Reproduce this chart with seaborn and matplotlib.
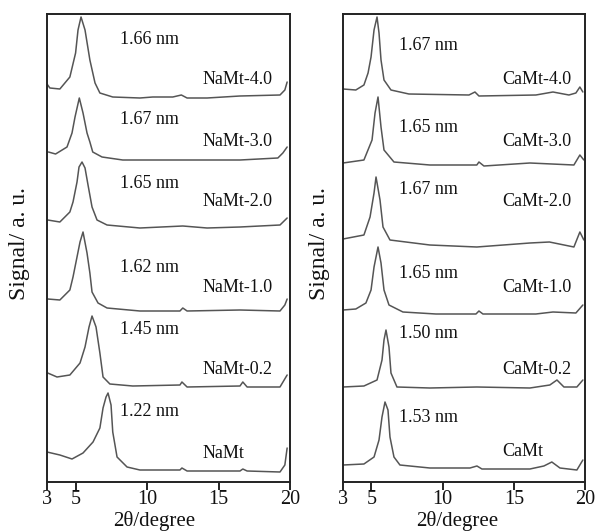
import numpy as np
import pandas as pd
import matplotlib
matplotlib.use("Agg")
import matplotlib.pyplot as plt
import seaborn as sns

# ---------------- data (stacked signal, a.u.) ----------------
na_names = ["NaMt-4.0", "NaMt-3.0", "NaMt-2.0", "NaMt-1.0", "NaMt-0.2", "NaMt"]
na_dspacing = ["1.66 nm", "1.67 nm", "1.65 nm", "1.62 nm", "1.45 nm", "1.22 nm"]
ca_names = ["CaMt-4.0", "CaMt-3.0", "CaMt-2.0", "CaMt-1.0", "CaMt-0.2", "CaMt"]
ca_dspacing = ["1.67 nm", "1.65 nm", "1.67 nm", "1.65 nm", "1.50 nm", "1.53 nm"]

na40_x = [3.0, 3.2, 3.9, 4.6, 5.0, 5.17, 5.38, 5.66, 6.0, 6.36, 6.7, 7.6, 9.5, 10.4, 11.8, 12.4, 12.8, 14.2, 16.5, 19.3, 19.64, 19.8]
na40_y = [398, 394, 393, 405, 429, 452, 465, 452, 422, 399, 389, 385, 384, 385, 385, 387, 384, 384, 386, 387, 392, 400]
na30_x = [3.1, 3.6, 4.4, 4.75, 4.96, 5.26, 5.52, 5.8, 6.0, 6.2, 6.85, 8.3, 11.8, 16.5, 19.15, 19.5, 19.8]
na30_y = [330, 328, 335, 349, 365, 384, 369, 349, 340, 330, 325, 322, 322, 322, 324, 329, 335]
na20_x = [3.05, 3.9, 4.6, 4.82, 5.1, 5.24, 5.45, 5.66, 5.87, 6.15, 6.5, 7.2, 9.5, 12.5, 14.2, 16.5, 19.3, 19.8]
na20_y = [262, 260, 270, 280, 300, 315, 320, 314, 297, 275, 262, 257, 254, 256, 254, 255, 257, 264]
na10_x = [3.05, 3.9, 4.6, 4.82, 5.1, 5.31, 5.52, 5.8, 6.0, 6.15, 6.57, 7.2, 9.5, 12.3, 12.5, 12.8, 16.5, 19.3, 19.64, 19.8]
na10_y = [183, 182, 192, 205, 225, 240, 250, 229, 209, 190, 179, 174, 171, 171, 174, 171, 172, 171, 177, 183]
na02_x = [3.05, 3.7, 4.6, 5.31, 5.66, 5.94, 6.15, 6.43, 6.7, 6.92, 7.4, 9.0, 12.3, 12.44, 12.8, 16.5, 16.7, 17.0, 19.3, 19.8]
na02_y = [109, 105, 107, 119, 135, 155, 166, 155, 129, 105, 98, 96, 97, 100, 95, 96, 100, 95, 95, 107]
na00_x = [3.0, 3.9, 4.75, 5.52, 6.22, 6.7, 6.92, 7.13, 7.27, 7.48, 7.6, 7.9, 8.6, 9.5, 12.3, 12.44, 12.8, 16.5, 16.7, 17.0, 19.3, 19.64, 19.8]
na00_y = [30, 27, 23, 29, 40, 54, 74, 85, 89, 77, 50, 25, 15, 12, 12, 14, 11, 11, 13, 11, 10, 17, 34]

ca40_x = [3.0, 3.9, 4.47, 4.76, 4.97, 5.18, 5.39, 5.53, 5.67, 5.88, 6.37, 7.63, 11.85, 12.27, 12.55, 16.55, 17.75, 18.87, 19.36, 19.64, 19.85]
ca40_y = [393, 392, 397, 409, 425, 452, 465, 449, 422, 402, 392, 388, 387, 390, 386, 387, 390, 387, 389, 395, 390]
ca30_x = [3.0, 4.47, 5.04, 5.25, 5.46, 5.67, 5.88, 6.58, 9.1, 12.4, 12.55, 12.9, 16.13, 19.22, 19.64, 19.92]
ca30_y = [319, 322, 342, 369, 385, 355, 332, 320, 317, 317, 320, 316, 319, 317, 327, 322]
ca20_x = [3.0, 4.47, 4.9, 5.18, 5.32, 5.6, 5.81, 6.3, 9.1, 12.4, 16.13, 17.5, 19.22, 19.64, 19.92]
ca20_y = [243, 247, 265, 289, 305, 282, 255, 242, 237, 235, 239, 240, 235, 250, 242]
ca10_x = [3.0, 3.9, 4.61, 4.97, 5.18, 5.46, 5.67, 5.88, 6.23, 7.21, 9.53, 12.34, 12.55, 12.83, 16.55, 17.75, 19.36, 19.85]
ca10_y = [172, 173, 179, 192, 215, 235, 219, 192, 177, 170, 168, 168, 171, 168, 168, 170, 169, 177]
ca02_x = [3.0, 4.47, 5.39, 5.74, 5.88, 6.02, 6.23, 6.37, 6.79, 9.1, 12.4, 16.13, 17.53, 18.03, 18.52, 19.43, 19.85]
ca02_y = [95, 96, 102, 122, 142, 152, 135, 109, 95, 94, 95, 94, 97, 102, 95, 95, 102]
ca00_x = [3.0, 4.47, 5.18, 5.53, 5.74, 5.95, 6.16, 6.3, 6.58, 7.0, 9.1, 11.92, 12.41, 12.76, 16.13, 17.11, 17.67, 18.24, 19.43, 19.85]
ca00_y = [17, 18, 25, 42, 65, 80, 72, 45, 25, 17, 14, 14, 16, 13, 13, 16, 20, 14, 12, 22]

x_ticks = [3, 5, 10, 15, 20]

na_series = [(na40_x, na40_y), (na30_x, na30_y), (na20_x, na20_y),
             (na10_x, na10_y), (na02_x, na02_y), (na00_x, na00_y)]
ca_series = [(ca40_x, ca40_y), (ca30_x, ca30_y), (ca20_x, ca20_y),
             (ca10_x, ca10_y), (ca02_x, ca02_y), (ca00_x, ca00_y)]


def to_frame(names, series):
    rows = []
    for n, (xs, ys) in zip(names, series):
        for xv, yv in zip(xs, ys):
            rows.append({"sample": n, "two_theta": xv, "signal": yv})
    return pd.DataFrame(rows)


df_na = to_frame(na_names, na_series)
df_ca = to_frame(ca_names, ca_series)

# ---------------- style ----------------
sns.set_style("ticks")
plt.rcParams["font.family"] = ["Liberation Serif", "DejaVu Serif"]
plt.rcParams["mathtext.fontset"] = "stix"

fig = plt.figure(figsize=(5.97, 5.31), dpi=100)
ax1 = fig.add_axes([47 / 597, 49 / 531, 243 / 597, 468 / 531])
ax2 = fig.add_axes([343 / 597, 49 / 531, 242 / 597, 468 / 531])

line_color = "#555555"

# label positions (data coords) for each row, top to bottom
d_y_na = [445, 364, 300, 217, 155, 72]
n_y_na = [404, 342, 282, 197, 114, 30]
d_y_ca = [439, 357, 295, 211, 150, 67]
n_y_ca = [404, 342, 282, 197, 115, 32]

for ax, df, names, dsp, dy, ny, dx, nx in [
    (ax1, df_na, na_names, na_dspacing, d_y_na, n_y_na, 8.1, 13.9),
    (ax2, df_ca, ca_names, ca_dspacing, d_y_ca, n_y_ca, 6.93, 14.17),
]:
    sns.lineplot(data=df, x="two_theta", y="signal", units="sample",
                 estimator=None, sort=False, color=line_color,
                 linewidth=1.1, ax=ax, legend=False)
    for lbl, yy in zip(dsp, dy):
        ax.text(dx, yy, lbl, fontsize=13, ha="left", va="center_baseline", color="#111111")
    for lbl, yy in zip(names, ny):
        ax.text(nx, yy, lbl, fontsize=13, ha="left", va="center_baseline", color="#111111")

    ax.set_xlim(3, 20)
    ax.set_ylim(0, 468)
    ax.set_xticks(x_ticks)
    ax.set_xticklabels([str(t) for t in x_ticks], fontsize=14.5)
    ax.set_yticks([])
    ax.tick_params(axis="x", direction="out", length=6, width=1.3, pad=0, colors="#111111")
    for s in ax.spines.values():
        s.set_visible(True)
        s.set_linewidth(1.4)
        s.set_color("#222222")
    ax.set_xlabel("2θ/degree", fontsize=15, color="#111111")
    ax.set_ylabel("Signal/ a. u.", fontsize=17, color="#111111")

ax1.xaxis.set_label_coords(0.44, -0.061)
ax2.xaxis.set_label_coords(0.47, -0.061)
ax1.yaxis.set_label_coords(-0.07, 0.51)
ax2.yaxis.set_label_coords(-0.055, 0.51)

fig.savefig("out.png", dpi=100, facecolor="white")
